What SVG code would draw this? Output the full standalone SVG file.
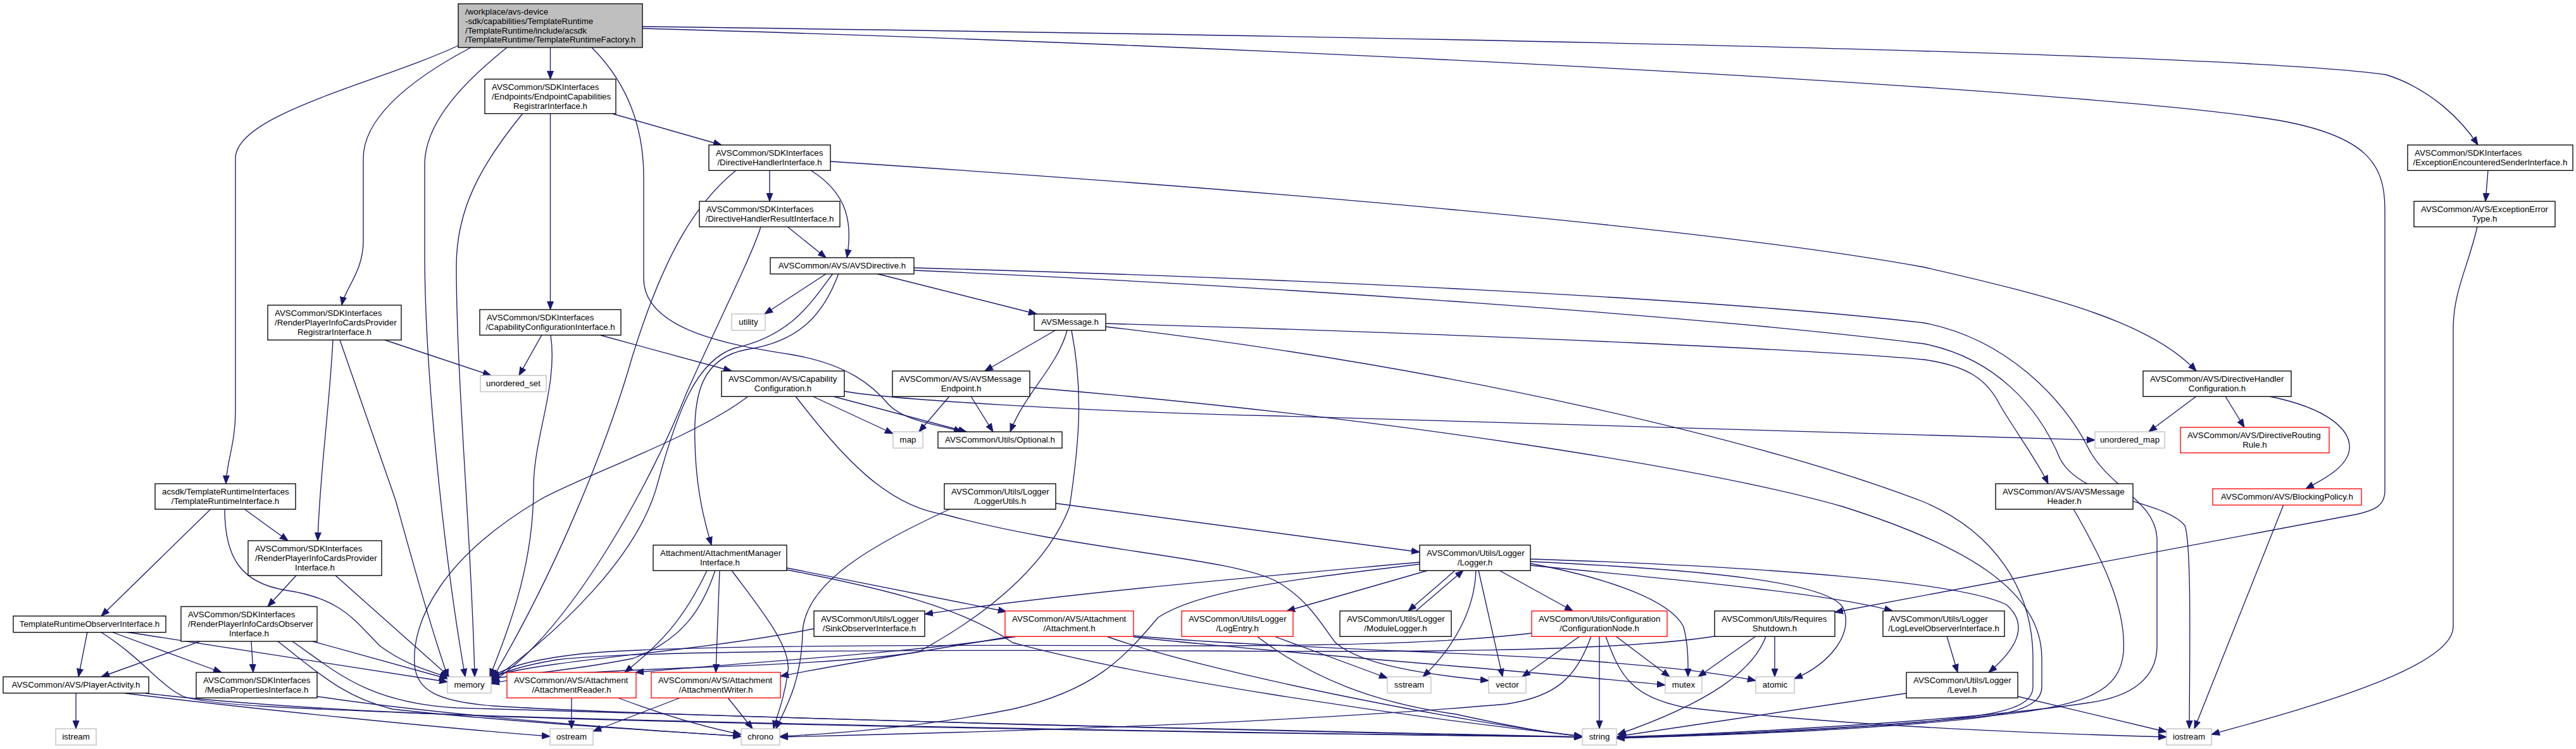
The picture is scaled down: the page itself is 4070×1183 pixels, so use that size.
<svg xmlns="http://www.w3.org/2000/svg" width="4070" height="1183" viewBox="0 0 4070 1183">
<style>
.nd rect{fill:#fff;stroke:#000;stroke-width:1.33}
.nd.hl rect{fill:#bfbfbf}
.nd.tr rect{stroke:#f00}
.nd.sys rect{stroke:#bfbfbf}
text{font-family:"Liberation Sans",Arial,Helvetica,sans-serif;font-size:13.33px;fill:#000}
.l{text-anchor:start}
.c{text-anchor:middle}
#edges path{fill:none;stroke:#191970;stroke-width:1.33;marker-end:url(#ah)}
</style>
<defs>
<marker id="ah" markerUnits="userSpaceOnUse" markerWidth="14" markerHeight="11" refX="13" refY="5.5" orient="auto" viewBox="0 0 14 11"><path d="M0,0.5 L13,5.5 L0,10.5 Z" fill="#191970" stroke="#191970" stroke-width="1"/></marker>
</defs>
<rect x="0" y="0" width="4070" height="1183" fill="#fff"/>
<g id="edges">
<path d="M869.5,75 L869.5,125"/>
<path d="M724,72 C600,130 372,180 372,250 L372,650 C372,700 358,730 357,764"/>
<path d="M744,75 C640,130 574,190 574,250 L574,380 C574,430 545,455 540,482"/>
<path d="M801,75 C720,140 671,200 671,260 L671,400 C671,600 705,900 735,1069"/>
<path d="M935,75 C990,130 1017,200 1017,280 L1017,440 C1017,520 1150,545 1250,560 C1340,575 1380,610 1405,640 C1430,665 1480,670 1520,682"/>
<path d="M1015,42 C2000,55 3500,80 3770,118 C3840,140 3890,190 3915,229"/>
<path d="M1015,45 C2000,72 3300,140 3600,190 C3740,215 3768,260 3768,330 L3768,775 C3768,800 3750,806 3725,812 L2899,967"/>
<path d="M969,180 L1140,229"/>
<path d="M869.5,179 L869.5,489"/>
<path d="M826,179 C760,260 721,330 721,420 C721,600 745,850 750,1069"/>
<path d="M1216,269 L1216,318"/>
<path d="M1281,269 C1330,300 1350,340 1338,407"/>
<path d="M1163,269 C1100,320 1050,400 1000,560 C960,700 880,900 776,1075"/>
<path d="M1312,255 C2000,300 2700,360 3040,422 C3250,470 3400,510 3470,586"/>
<path d="M1244,358 L1305,407"/>
<path d="M1202,358 C1190,400 1120,540 1085,620 C1030,760 900,1000 776,1078"/>
<path d="M3931,269 L3927,318"/>
<path d="M3914,358 C3900,420 3876,460 3876,520 L3876,990 C3876,1060 3600,1130 3494,1160"/>
<path d="M608,537 L776,593"/>
<path d="M526,537 C520,650 505,750 502,854"/>
<path d="M537,537 L625,790 C650,880 680,990 708,1070"/>
<path d="M856,529 L820,593"/>
<path d="M947,529 L1156,586"/>
<path d="M870,529 C882,610 843,690 843,770 C843,900 800,1000 774,1069"/>
<path d="M1306,432 L1208,496"/>
<path d="M1384,432 L1638,496"/>
<path d="M1316,432 C1280,480 1250,530 1160,550 C1100,570 1070,650 1040,760 C1010,880 880,1000 776,1075"/>
<path d="M1325,432 C1300,500 1260,540 1180,552 C1110,565 1095,620 1098,700 C1100,780 1115,830 1124,861"/>
<path d="M1444,423 C2000,438 2700,470 3040,510 C3170,535 3260,630 3298,705 C3330,770 3405,790 3408,850 L3408,1020 C3408,1070 3370,1100 3300,1110 C3100,1140 2700,1160 2554,1164"/>
<path d="M1444,427 C2000,451 2700,500 3040,543 C3150,565 3220,640 3255,725 C3290,790 3420,790 3452,830 C3462,860 3460,1000 3459,1151"/>
<path d="M1667,522 L1556,586"/>
<path d="M1686,522 C1670,580 1620,620 1596,682"/>
<path d="M1693,522 C1712,620 1705,700 1690,800 C1660,880 1580,960 1450,1030 C1250,1060 900,1050 776,1080"/>
<path d="M1747,511 C2400,530 2900,555 3040,568 C3110,578 3140,600 3160,640 C3190,690 3220,730 3236,764"/>
<path d="M1747,516 C2300,580 2800,700 3040,793 C3150,840 3212,930 3212,1040 L3212,1085 C3212,1120 3150,1130 3040,1140 C2850,1155 2650,1162 2554,1165"/>
<path d="M1500,626 L1452,682"/>
<path d="M1534,626 L1569,682"/>
<path d="M1627,612 C2200,660 2700,740 2911,800 C3100,860 3226,930 3226,1040 L3226,1085 C3226,1125 3150,1133 3040,1142 C2850,1158 2650,1163 2554,1166"/>
<path d="M1284,626 L1411,685"/>
<path d="M1316,626 L1527,682"/>
<path d="M1334,618 C1400,630 1700,650 2020,657 C2600,672 3000,688 3310,695"/>
<path d="M1257,626 C1330,720 1400,800 1494,813 C1700,870 1950,880 2020,920 C2070,950 2090,990 2110,1015 C2150,1050 2250,1065 2352,1075"/>
<path d="M1182,626 C1100,690 900,760 852,790 C700,880 650,980 655,1050 C658,1090 690,1108 780,1115 C1000,1130 2000,1155 2500,1164"/>
<path d="M3470,626 L3395,682"/>
<path d="M3516,626 L3546,675"/>
<path d="M3585,626 C3680,645 3715,680 3712,710 C3708,740 3665,760 3643,772"/>
<path d="M3608,797 L3467,1151"/>
<path d="M3276,804 C3320,880 3360,960 3355,1030 C3350,1090 3300,1115 3150,1130 C2900,1155 2650,1163 2554,1166"/>
<path d="M333,804 L160,973"/>
<path d="M386,804 L455,854"/>
<path d="M355,804 C355,880 380,920 450,932 C540,945 560,980 600,1020 C640,1050 680,1060 708,1070"/>
<path d="M468,909 L423,958"/>
<path d="M530,909 L710,1069"/>
<path d="M138,998 L124,1069"/>
<path d="M176,998 L350,1062"/>
<path d="M198,998 L707,1077"/>
<path d="M159,998 C225,1040 255,1085 290,1100 C330,1115 500,1120 700,1128 C1200,1145 2000,1158 2500,1164"/>
<path d="M316,1013 L160,1069"/>
<path d="M397,1013 L400,1062"/>
<path d="M494,1013 L707,1072"/>
<path d="M439,1013 C500,1060 540,1100 620,1120 C800,1140 1050,1155 1171,1163"/>
<path d="M462,1013 C530,1060 580,1110 720,1118 C1200,1135 2000,1155 2500,1164"/>
<path d="M120,1095 L120,1151"/>
<path d="M198,1095 C400,1120 700,1150 869,1163"/>
<path d="M230,1095 C400,1115 600,1125 800,1132 C1300,1148 2100,1160 2500,1164"/>
<path d="M501,1100 C700,1130 1000,1152 1171,1163"/>
<path d="M1243,897 L1590,966"/>
<path d="M1243,900 C1400,930 1520,960 1600,1015 C1800,1070 2200,1130 2500,1163"/>
<path d="M1137,901 L1131,1062"/>
<path d="M1156,901 C1200,960 1250,1020 1245,1060 C1240,1100 1228,1130 1222,1151"/>
<path d="M1130,901 C1110,960 1080,1010 1000,1040 C900,1060 820,1065 776,1072"/>
<path d="M1117,901 C1080,980 1040,1020 987,1062"/>
<path d="M1608,1005 C1450,1030 1200,1045 1004,1062"/>
<path d="M1600,1005 C1450,1030 1350,1045 1233,1068"/>
<path d="M1748,1005 C1900,1060 2300,1140 2500,1163"/>
<path d="M1791,1006 C2000,1030 2400,1058 2631,1082"/>
<path d="M1791,1004 C1950,1020 2300,1030 2455,1040 C2600,1050 2700,1060 2774,1075"/>
<path d="M903,1102 L903,1151"/>
<path d="M976,1102 C1050,1130 1120,1150 1171,1160"/>
<path d="M1150,1102 L1189,1151"/>
<path d="M1075,1102 L937,1155"/>
<path d="M1501,804 C1380,860 1270,920 1268,1000 C1266,1080 1240,1120 1226,1151"/>
<path d="M1668,795 L2243,872"/>
<path d="M2243,888 C2000,910 1700,935 1461,970"/>
<path d="M2243,891 C2050,915 1900,930 1830,975 C1775,1040 1730,1090 1600,1120 C1450,1150 1300,1160 1232,1163"/>
<path d="M2256,901 L2033,965"/>
<path d="M2299,901 L2225,965"/>
<path d="M2237,965 L2312,901"/>
<path d="M2332,901 C2330,960 2300,1020 2248,1069"/>
<path d="M2336,901 L2374,1069"/>
<path d="M2369,901 L2485,965"/>
<path d="M2418,890 C2550,915 2640,950 2660,990 C2668,1020 2667,1050 2667,1069"/>
<path d="M2418,887 C2700,900 2890,920 2912,960 C2930,1000 2890,1050 2835,1072"/>
<path d="M2418,893 C2700,920 2900,940 2990,965"/>
<path d="M2418,883 C2800,895 3100,920 3170,955 C3210,990 3180,1030 3142,1062"/>
<path d="M2013,1005 L2192,1071"/>
<path d="M1986,1005 C2070,1070 2170,1110 2300,1128 C2400,1150 2450,1158 2500,1163"/>
<path d="M2420,1000 C2300,1015 2100,1020 1900,1020 C1400,1018 1000,1020 900,1035 C820,1045 790,1060 776,1070"/>
<path d="M2496,1005 L2405,1069"/>
<path d="M2514,1005 C2490,1070 2460,1100 2380,1112 C2000,1145 1500,1158 1232,1164"/>
<path d="M2527,1005 L2527,1151"/>
<path d="M2537,1005 C2560,1070 2580,1100 2660,1117 C2900,1145 3200,1158 3423,1164"/>
<path d="M2553,1005 L2638,1069"/>
<path d="M2709,1005 C2550,1030 2200,1030 1900,1028 C1400,1026 1000,1028 880,1042 C820,1052 795,1062 776,1072"/>
<path d="M2774,1005 L2683,1069"/>
<path d="M2790,1005 C2770,1060 2700,1110 2556,1160"/>
<path d="M2804,1005 L2804,1069"/>
<path d="M3076,1005 L3093,1062"/>
<path d="M3188,1100 L3423,1156"/>
<path d="M3012,1095 L2556,1163"/>
<path d="M1286,993 C1100,1030 880,1040 776,1068"/>
</g>
<g id="n_main" class="nd hl"><rect x="724" y="6" width="291" height="69"/><text class="l" x="735" y="23.1">/workplace/avs-device</text><text class="l" x="735" y="37.8">-sdk/capabilities/TemplateRuntime</text><text class="l" x="735" y="52.5">/TemplateRuntime/include/acsdk</text><text class="c" x="869.5" y="67.2">/TemplateRuntime/TemplateRuntimeFactory.h</text></g>
<g id="n_ecr" class="nd"><rect x="766" y="125" width="207" height="54.5"/><text class="l" x="777" y="142.4">AVSCommon/SDKInterfaces</text><text class="l" x="777" y="157.1">/Endpoints/EndpointCapabilities</text><text class="c" x="869.5" y="171.8">RegistrarInterface.h</text></g>
<g id="n_dhi" class="nd"><rect x="1120" y="229" width="192" height="40.3"/><text class="l" x="1131" y="246.4">AVSCommon/SDKInterfaces</text><text class="c" x="1216" y="261.1">/DirectiveHandlerInterface.h</text></g>
<g id="n_dhri" class="nd"><rect x="1105" y="318" width="222" height="40.3"/><text class="l" x="1116" y="335.4">AVSCommon/SDKInterfaces</text><text class="c" x="1216" y="350.1">/DirectiveHandlerResultInterface.h</text></g>
<g id="n_eesi" class="nd"><rect x="3804" y="229" width="261" height="40.3"/><text class="l" x="3815" y="246.4">AVSCommon/SDKInterfaces</text><text class="c" x="3934.5" y="261.1">/ExceptionEncounteredSenderInterface.h</text></g>
<g id="n_eet" class="nd"><rect x="3814" y="318" width="223" height="40.3"/><text class="l" x="3825" y="335.4">AVSCommon/AVS/ExceptionError</text><text class="c" x="3925.5" y="350.1">Type.h</text></g>
<g id="n_rpicpri" class="nd"><rect x="423" y="482" width="211" height="55"/><text class="l" x="434" y="499.4">AVSCommon/SDKInterfaces</text><text class="l" x="434" y="514.1">/RenderPlayerInfoCardsProvider</text><text class="c" x="528.5" y="528.8">RegistrarInterface.h</text></g>
<g id="n_cci" class="nd"><rect x="758" y="489" width="223" height="40.3"/><text class="l" x="769" y="506.4">AVSCommon/SDKInterfaces</text><text class="c" x="869.5" y="521.1">/CapabilityConfigurationInterface.h</text></g>
<g id="n_uset" class="nd sys"><rect x="759" y="593" width="104" height="25.7"/><text class="c" x="811" y="610.4">unordered_set</text></g>
<g id="n_avsdirective" class="nd"><rect x="1217" y="407" width="227" height="25.7"/><text class="c" x="1330.5" y="424.4">AVSCommon/AVS/AVSDirective.h</text></g>
<g id="n_utility" class="nd sys"><rect x="1156" y="496" width="53" height="25.7"/><text class="c" x="1182.5" y="513.4">utility</text></g>
<g id="n_avsmessage" class="nd"><rect x="1634" y="496" width="113" height="25.7"/><text class="c" x="1690.5" y="513.4">AVSMessage.h</text></g>
<g id="n_capconf" class="nd"><rect x="1140" y="586" width="194" height="40.3"/><text class="l" x="1151" y="603.4">AVSCommon/AVS/Capability</text><text class="c" x="1237" y="618.1">Configuration.h</text></g>
<g id="n_msgendpoint" class="nd"><rect x="1410" y="586" width="217" height="40.3"/><text class="l" x="1421" y="603.4">AVSCommon/AVS/AVSMessage</text><text class="c" x="1518.5" y="618.1">Endpoint.h</text></g>
<g id="n_map" class="nd sys"><rect x="1411" y="682" width="47" height="25.7"/><text class="c" x="1434.5" y="699.4">map</text></g>
<g id="n_optional" class="nd"><rect x="1482" y="682" width="196" height="25.7"/><text class="c" x="1580" y="699.4">AVSCommon/Utils/Optional.h</text></g>
<g id="n_dhconf" class="nd"><rect x="3386" y="586" width="234" height="40.3"/><text class="l" x="3397" y="603.4">AVSCommon/AVS/DirectiveHandler</text><text class="c" x="3503" y="618.1">Configuration.h</text></g>
<g id="n_umap" class="nd sys"><rect x="3310" y="682" width="110" height="25.7"/><text class="c" x="3365" y="699.4">unordered_map</text></g>
<g id="n_drr" class="nd tr"><rect x="3445" y="675" width="235" height="40.3"/><text class="l" x="3456" y="692.4">AVSCommon/AVS/DirectiveRouting</text><text class="c" x="3562.5" y="707.1">Rule.h</text></g>
<g id="n_blocking" class="nd tr"><rect x="3496" y="772" width="235" height="25.7"/><text class="c" x="3613.5" y="789.4">AVSCommon/AVS/BlockingPolicy.h</text></g>
<g id="n_msgheader" class="nd"><rect x="3153" y="764" width="217" height="40.3"/><text class="l" x="3164" y="781.4">AVSCommon/AVS/AVSMessage</text><text class="c" x="3261.5" y="796.1">Header.h</text></g>
<g id="n_tri" class="nd"><rect x="245" y="764" width="222" height="40.3"/><text class="l" x="256" y="781.4">acsdk/TemplateRuntimeInterfaces</text><text class="c" x="356" y="796.1">/TemplateRuntimeInterface.h</text></g>
<g id="n_loggerutils" class="nd"><rect x="1492" y="764" width="176" height="40.3"/><text class="l" x="1503" y="781.4">AVSCommon/Utils/Logger</text><text class="c" x="1580" y="796.1">/LoggerUtils.h</text></g>
<g id="n_rpicpi" class="nd"><rect x="392" y="854" width="211" height="55"/><text class="l" x="403" y="871.4">AVSCommon/SDKInterfaces</text><text class="l" x="403" y="886.1">/RenderPlayerInfoCardsProvider</text><text class="c" x="497.5" y="900.8">Interface.h</text></g>
<g id="n_ami" class="nd"><rect x="1032" y="861" width="211" height="40.3"/><text class="l" x="1043" y="878.4">Attachment/AttachmentManager</text><text class="c" x="1137.5" y="893.1">Interface.h</text></g>
<g id="n_logger" class="nd"><rect x="2243" y="861" width="175" height="40.3"/><text class="l" x="2254" y="878.4">AVSCommon/Utils/Logger</text><text class="c" x="2330.5" y="893.1">/Logger.h</text></g>
<g id="n_troi" class="nd"><rect x="21" y="973" width="241" height="25.7"/><text class="c" x="141.5" y="990.4">TemplateRuntimeObserverInterface.h</text></g>
<g id="n_rpicoi" class="nd"><rect x="286" y="958" width="215" height="55"/><text class="l" x="297" y="975.4">AVSCommon/SDKInterfaces</text><text class="l" x="297" y="990.1">/RenderPlayerInfoCardsObserver</text><text class="c" x="393.5" y="1004.8">Interface.h</text></g>
<g id="n_sinkobs" class="nd"><rect x="1286" y="965" width="175" height="40.3"/><text class="l" x="1297" y="982.4">AVSCommon/Utils/Logger</text><text class="c" x="1373.5" y="997.1">/SinkObserverInterface.h</text></g>
<g id="n_attachment" class="nd tr"><rect x="1588" y="965" width="203" height="40.3"/><text class="l" x="1599" y="982.4">AVSCommon/AVS/Attachment</text><text class="c" x="1689.5" y="997.1">/Attachment.h</text></g>
<g id="n_logentry" class="nd tr"><rect x="1867" y="965" width="176" height="40.3"/><text class="l" x="1878" y="982.4">AVSCommon/Utils/Logger</text><text class="c" x="1955" y="997.1">/LogEntry.h</text></g>
<g id="n_modulelogger" class="nd"><rect x="2117" y="965" width="176" height="40.3"/><text class="l" x="2128" y="982.4">AVSCommon/Utils/Logger</text><text class="c" x="2205" y="997.1">/ModuleLogger.h</text></g>
<g id="n_confignode" class="nd tr"><rect x="2420" y="965" width="214" height="40.3"/><text class="l" x="2431" y="982.4">AVSCommon/Utils/Configuration</text><text class="c" x="2527" y="997.1">/ConfigurationNode.h</text></g>
<g id="n_reqshutdown" class="nd"><rect x="2709" y="965" width="190" height="40.3"/><text class="l" x="2720" y="982.4">AVSCommon/Utils/Requires</text><text class="c" x="2804" y="997.1">Shutdown.h</text></g>
<g id="n_lloi" class="nd"><rect x="2975" y="965" width="192" height="40.3"/><text class="l" x="2986" y="982.4">AVSCommon/Utils/Logger</text><text class="c" x="3071" y="997.1">/LogLevelObserverInterface.h</text></g>
<g id="n_playeractivity" class="nd"><rect x="5" y="1069" width="230" height="25.7"/><text class="c" x="120" y="1086.4">AVSCommon/AVS/PlayerActivity.h</text></g>
<g id="n_mpi" class="nd"><rect x="310" y="1062" width="191" height="40.3"/><text class="l" x="321" y="1079.4">AVSCommon/SDKInterfaces</text><text class="c" x="405.5" y="1094.1">/MediaPropertiesInterface.h</text></g>
<g id="n_memory" class="nd sys"><rect x="707" y="1069" width="69" height="25.7"/><text class="c" x="741.5" y="1086.4">memory</text></g>
<g id="n_attreader" class="nd tr"><rect x="801" y="1062" width="204" height="40.3"/><text class="l" x="812" y="1079.4">AVSCommon/AVS/Attachment</text><text class="c" x="903" y="1094.1">/AttachmentReader.h</text></g>
<g id="n_attwriter" class="nd tr"><rect x="1029" y="1062" width="204" height="40.3"/><text class="l" x="1040" y="1079.4">AVSCommon/AVS/Attachment</text><text class="c" x="1131" y="1094.1">/AttachmentWriter.h</text></g>
<g id="n_sstream" class="nd sys"><rect x="2192" y="1069" width="69" height="25.7"/><text class="c" x="2226.5" y="1086.4">sstream</text></g>
<g id="n_vector" class="nd sys"><rect x="2352" y="1069" width="59" height="25.7"/><text class="c" x="2381.5" y="1086.4">vector</text></g>
<g id="n_mutex" class="nd sys"><rect x="2631" y="1069" width="58" height="25.7"/><text class="c" x="2660" y="1086.4">mutex</text></g>
<g id="n_atomic" class="nd sys"><rect x="2774" y="1069" width="61" height="25.7"/><text class="c" x="2804.5" y="1086.4">atomic</text></g>
<g id="n_level" class="nd"><rect x="3012" y="1062" width="176" height="40.3"/><text class="l" x="3023" y="1079.4">AVSCommon/Utils/Logger</text><text class="c" x="3100" y="1094.1">/Level.h</text></g>
<g id="n_istream" class="nd sys"><rect x="88" y="1151" width="64" height="25.7"/><text class="c" x="120" y="1168.4">istream</text></g>
<g id="n_ostream" class="nd sys"><rect x="869" y="1151" width="68" height="25.7"/><text class="c" x="903" y="1168.4">ostream</text></g>
<g id="n_chrono" class="nd sys"><rect x="1171" y="1151" width="61" height="25.7"/><text class="c" x="1201.5" y="1168.4">chrono</text></g>
<g id="n_string" class="nd sys"><rect x="2500" y="1151" width="54" height="25.7"/><text class="c" x="2527" y="1168.4">string</text></g>
<g id="n_iostream" class="nd sys"><rect x="3423" y="1151" width="71" height="25.7"/><text class="c" x="3458.5" y="1168.4">iostream</text></g>
</svg>
